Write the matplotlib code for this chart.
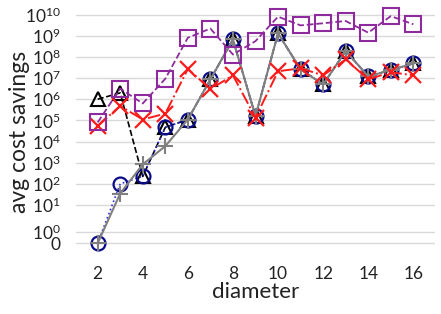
import math
import matplotlib
matplotlib.use("Agg")
import matplotlib.pyplot as plt
from matplotlib.ticker import FixedLocator, FuncFormatter

plt.rcParams['font.family'] = ['Lato', 'DejaVu Sans']
plt.rcParams['mathtext.fontset'] = 'custom'
plt.rcParams['mathtext.rm'] = 'Lato'

diameter = [2, 3, 4, 5, 6, 7, 8, 9, 10, 11, 12, 13, 14, 15, 16]

tri_black = [1e6, 2e6, 225, 4.7e4, 1.1e5, 8.7e6, 6.7e8, 1.6e5, 1.3e9, 2.6e7, 5e6, 1.9e8, 1.2e7, 2.4e7, 4.9e7]
circ_navy = [0, 100, 230, 4.7e4, 1.1e5, 8.7e6, 6.7e8, 1.6e5, 1.3e9, 2.6e7, 5e6, 1.9e8, 1.2e7, 2.4e7, 4.9e7]
plus_grey = [0, 35, 830, 6.1e3, 1.1e5, 8.7e6, 6.7e8, 1.6e5, 1.3e9, 2.6e7, 5e6, 1.9e8, 1.2e7, 2.4e7, 4.9e7]
x_red = [5.5e4, 4.8e5, 1.1e5, 2.1e5, 2.7e7, 3e6, 1.35e7, 1.35e5, 2.1e7, 2.9e7, 1.35e7, 7.6e7, 8.7e6, 1.9e7, 1.35e7]
sq_purple = [8e4, 3.2e6, 6.3e5, 9.3e6, 8.1e8, 2.2e9, 1.3e8, 5.6e8, 8e9, 3.1e9, 3.9e9, 5e9, 1.4e9, 8.5e9, 3.5e9]

ytick_vals = [0] + [10 ** k for k in range(0, 11)]

fig = plt.figure(figsize=(4.41, 3.14), dpi=100)
ax = fig.add_axes([76 / 441, 1 - 255 / 314, (435 - 76) / 441, 250 / 314])

ax.plot(diameter, tri_black, linestyle='--', color='black', marker='^', markersize=10,
        markerfacecolor='none', markeredgecolor='black', markeredgewidth=1.5, lw=1.2, zorder=3)
ax.plot(diameter, circ_navy, linestyle=':', color='#3030e0', marker='o', markersize=10,
        markerfacecolor='none', markeredgecolor='#0a0a8c', markeredgewidth=1.6, lw=1.2, zorder=4)
ax.plot(diameter, plus_grey, linestyle='-', color='#808080', marker='+', markersize=12,
        markeredgewidth=1.5, lw=1.5, zorder=5)
ax.plot(diameter, x_red, linestyle='-.', color='#ff1a1a', marker='x', markersize=11,
        markeredgewidth=1.6, lw=1.4, zorder=6)
ax.plot(diameter, sq_purple, linestyle='--', color='#8e2a9e', marker='s', markersize=11,
        markerfacecolor='none', markeredgewidth=1.5, lw=1.3, zorder=7)

ax.set_yscale('symlog', linthresh=2, linscale=1)
ax.set_ylim(-0.995, 2.85e10)
ax.set_xlim(1.04, 16.96)

ax.yaxis.set_major_locator(FixedLocator(ytick_vals))
ax.yaxis.set_minor_locator(FixedLocator([]))
ax.yaxis.set_major_formatter(FuncFormatter(
    lambda v, p: '0' if v == 0 else r'$\mathregular{10^{%d}}$' % round(math.log10(v))))
ax.set_xticks([2, 4, 6, 8, 10, 12, 14, 16])

ax.grid(axis='y', color='#d9d9d9', lw=1.0)
ax.set_axisbelow(True)
for s in ax.spines.values():
    s.set_visible(False)
ax.tick_params(axis='both', length=0, labelsize=12.5, colors='#222222')
ax.tick_params(axis='y', pad=11)
ax.tick_params(axis='x', pad=8)

ax.set_xlabel('diameter', fontsize=16, color='#222222', labelpad=0)
fig.text(20 / 441, 1 - 132 / 314, 'avg cost savings', rotation=90, ha='center', va='center',
         fontsize=16.5, color='#222222')

fig.savefig('out.png', dpi=100)
